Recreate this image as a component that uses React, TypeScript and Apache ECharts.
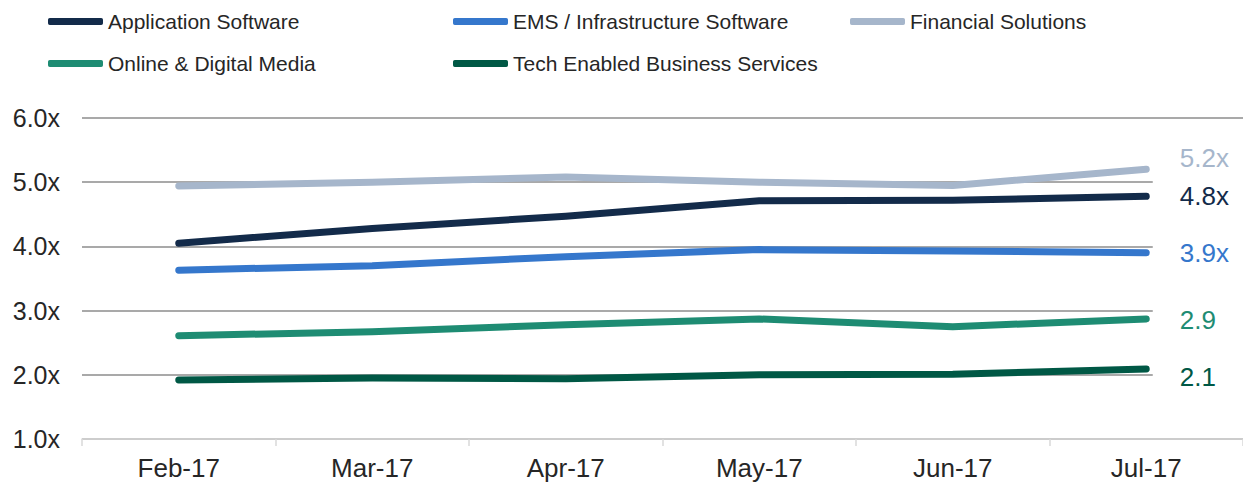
import React, { useEffect, useRef } from "react";
import * as echarts from "echarts";

const categories = ["Feb-17", "Mar-17", "Apr-17", "May-17", "Jun-17", "Jul-17"];
const seriesNames = [
  "Application Software",
  "EMS / Infrastructure Software",
  "Financial Solutions",
  "Online & Digital Media",
  "Tech Enabled Business Services",
];
const appSoftware = [4.05, 4.28, 4.47, 4.71, 4.72, 4.78];
const emsInfra = [3.63, 3.7, 3.84, 3.95, 3.93, 3.9];
const financial = [4.94, 5.0, 5.08, 5.0, 4.95, 5.2];
const onlineMedia = [2.61, 2.67, 2.78, 2.87, 2.75, 2.87];
const techServices = [1.92, 1.95, 1.94, 2.0, 2.01, 2.09];
const endLabels = ["4.8x", "3.9x", "5.2x", "2.9", "2.1"];
const colors = ["#132B4A", "#3577CC", "#A6B6CB", "#1E8C73", "#005845"];
const yTicks = { min: 1, max: 6, interval: 1 };

export default function App() {
  const ref = useRef<HTMLDivElement>(null);
  useEffect(() => {
    document.body.style.margin = "0";
    if (!ref.current) return;
    const chart = echarts.init(ref.current, undefined, { renderer: "svg" });
    const data = [appSoftware, emsInfra, financial, onlineMedia, techServices];
    const labelOffsets = [[0, 0], [0, 0], [0, -11], [0, 1], [0, 8]];
    const legendPos = [
      { left: 48, top: 11 },
      { left: 453, top: 11 },
      { left: 850, top: 11 },
      { left: 48, top: 53 },
      { left: 453, top: 53 },
    ];
    const font = "Liberation Sans";
    chart.setOption({
      animation: false,
      textStyle: { fontFamily: font },
      legend: seriesNames.map((n, i) => ({
        data: [n],
        left: legendPos[i].left,
        top: legendPos[i].top,
        icon: "roundRect",
        itemWidth: 55,
        itemHeight: 7,
        padding: 0,
        textStyle: { fontSize: 21, color: "#262626", fontFamily: font },
      })),
      grid: { left: 82, top: 118, width: 1170, bottom: 44, containLabel: false },
      xAxis: {
        type: "category",
        data: categories,
        boundaryGap: true,
        axisLine: { lineStyle: { color: "#d9d9d9", width: 1.5 } },
        axisTick: { show: true, length: 7, lineStyle: { color: "#d9d9d9", width: 1.5 } },
        axisLabel: { fontSize: 26, color: "#262626", margin: 16, fontFamily: font },
      },
      yAxis: {
        type: "value",
        min: yTicks.min,
        max: yTicks.max,
        interval: yTicks.interval,
        axisLine: { show: false },
        axisTick: { show: false },
        axisLabel: {
          fontSize: 25,
          color: "#262626",
          margin: 22,
          fontFamily: font,
          formatter: (v: number) => v.toFixed(1) + "x",
        },
        splitLine: { lineStyle: { color: "#8c8c8c", width: 1.5 } },
      },
      series: seriesNames.map((n, i) => ({
        name: n,
        type: "line",
        color: colors[i],
        symbol: "circle",
        symbolSize: 1,
        showSymbol: true,
        itemStyle: { color: colors[i] },
        lineStyle: { width: 7, color: colors[i], cap: "round", join: "round" },
        data: data[i].map((v, j) =>
          j === data[i].length - 1
            ? {
                value: v,
                label: {
                  show: true,
                  position: "right",
                  distance: 6,
                  formatter: endLabels[i],
                  fontSize: 26,
                  fontFamily: font,
                  color: colors[i],
                  backgroundColor: "#ffffff",
                  padding: [3, 30, 3, 27],
                  offset: labelOffsets[i],
                },
              }
            : v
        ),
        z: 3 + (i === 2 ? 0 : 1),
      })),
    });
    return () => chart.dispose();
  }, []);
  return <div ref={ref} style={{ width: 1243, height: 483 }} />;
}
